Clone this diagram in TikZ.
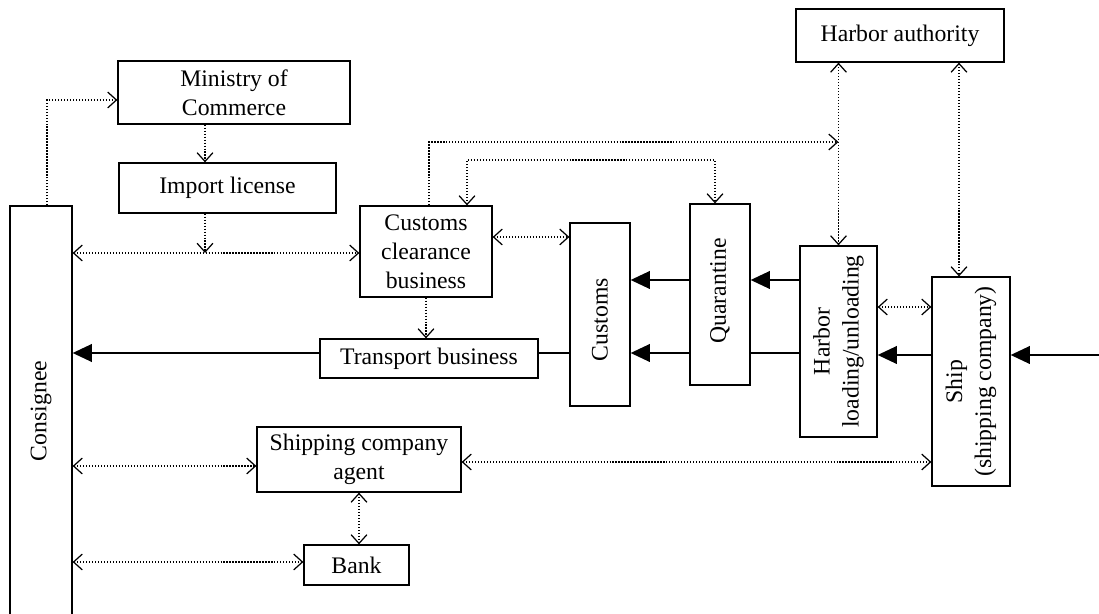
\documentclass[tikz,border=0pt]{standalone}
\usepackage{fontspec}
\setmainfont{Liberation Serif}
\usetikzlibrary{arrows.meta}

\begin{document}
\begin{tikzpicture}[x=0.02cm, y=-0.02cm,
    wh/.style 2 args={minimum width=#1*0.02cm, minimum height=#2*0.02cm},
    box/.style={draw, line width=0.7pt, inner sep=0pt, align=center, font=\fontsize{13.5}{16.5}\selectfont},
    vtext/.style={rotate=90, inner sep=0pt, align=center, font=\fontsize{13.5}{16.5}\selectfont},
    info/.style={densely dotted, line width=0.7pt},
    flow/.style={line width=1.3pt},
    flowto/.style={flow, -{Triangle[length=11pt,width=10pt]}},
    >={Straight Barb[length=5pt,width=9pt]}]
    \useasboundingbox (0,0) rectangle (1099,614);

    \node [box, wh={62}{424}, label={[vtext, xshift=4pt]center:Consignee}] (cons) at (41,418) {};
    \node [box, wh={232}{63}] (moc) at (234,92.5) {Ministry of\\Commerce};
    \node [box, wh={217}{50}] (lic) at (227.5,188) {Import license};
    \node [box, wh={132}{91}] (ccb) at (426,251.5) {Customs\\clearance\\business};
    \node [box, wh={60}{183}, label={[vtext, xshift=-3pt]center:Customs}] (cust) at (600,314.5) {};
    \node [box, wh={60}{181}, label={[vtext, xshift=2pt]center:Quarantine}] (quar) at (720,294.5) {};
    \node [box, wh={77}{191}, label={[vtext]center:Harbor\\loading/unloading}] (harb) at (838.5,341.5) {};
    \node [box, wh={78}{209}, label={[vtext]center:Ship\\(shipping company)}] (ship) at (971,381.5) {};
    \node [box, wh={208}{53}] (hauth) at (900,35.5) {Harbor authority};
    \node [box, wh={218}{39}] (trans) at (429,358.5) {Transport business};
    \node [box, wh={204}{65}] (agent) at (359,459.5) {Shipping company\\agent};
    \node [box, wh={105}{40}] (bank) at (356.5,565) {Bank};

    \coordinate (up) at (47,100);
    \coordinate (lv) at (205,253);
    \coordinate (k1) at (429,142);
    \coordinate (k2) at (467,160);
    \coordinate (k3) at (715,160);
    \coordinate (k4) at (959,0);
    \coordinate (m1) at (0,237);
    \coordinate (m2) at (0,307);
    \coordinate (m3) at (0,466);
    \coordinate (m4) at (0,462);
    \coordinate (m5) at (0,562);
    \coordinate (r1) at (0,280);
    \coordinate (r2) at (0,353);
    \coordinate (src) at (1099,355);

    % information
    \draw [info, ->] (up |- cons.north) -- (up) -- (up -| moc.west);
    \draw [info, ->] (lv |- moc.south) -- (lv |- lic.north);
    \draw [info, ->] (lv |- lic.south) -- (lv);
    \draw [info, <->] (lv -| cons.east) -- (lv -| ccb.west);
    \draw [info, <->] (m1 -| ccb.east) -- (m1 -| cust.west);
    \draw [info, ->] (k1 |- ccb.north) -- (k1) -- (k1 -| harb.north);
    \draw [info, <->] (k2 |- ccb.north) -- (k2) -- (k3) -- (k3 |- quar.north);
    \draw [info, <->] (harb.north |- hauth.south) -- (harb.north);
    \draw [info, <->] (k4 |- hauth.south) -- (k4 |- ship.north);
    \draw [info, <->] (m2 -| harb.east) -- (m2 -| ship.west);
    \draw [info, ->] (ccb.south) -- (ccb.south |- trans.north);
    \draw [info, <->] (m3 -| cons.east) -- (m3 -| agent.west);
    \draw [info, <->] (m4 -| agent.east) -- (m4 -| ship.west);
    \draw [info, <->] (agent.south) -- (agent.south |- bank.north);
    \draw [info, <->] (m5 -| cons.east) -- (m5 -| bank.west);

    % cargo
    \draw [flowto] (src) -- (src -| ship.east);
    \draw [flowto] (src -| ship.west) -- (src -| harb.east);
    \draw [flowto] (r1 -| harb.west) -- (r1 -| quar.east);
    \draw [flowto] (r1 -| quar.west) -- (r1 -| cust.east);
    \draw [flow] (r2 -| harb.west) -- (r2 -| quar.east);
    \draw [flowto] (r2 -| quar.west) -- (r2 -| cust.east);
    \draw [flow] (r2 -| cust.west) -- (r2 -| trans.east);
    \draw [flowto] (r2 -| trans.west) -- (r2 -| cons.east);
\end{tikzpicture}
\end{document}
